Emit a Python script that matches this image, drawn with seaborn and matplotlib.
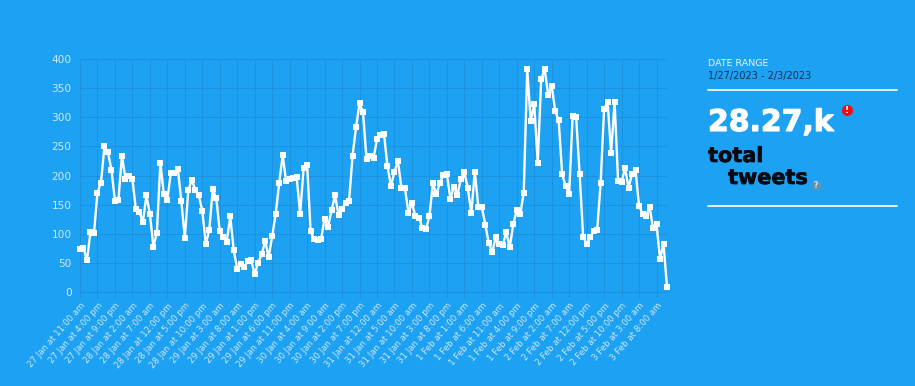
# -*- coding: utf-8 -*-
"""Hourly tweet volume, 27 Jan - 3 Feb 2023."""
import matplotlib
matplotlib.use("Agg")
import matplotlib.patheffects as pe
import matplotlib.pyplot as plt
import pandas as pd
import seaborn as sns

BG = "#1DA1F2"
GRID = "#1A90DA"
LABEL = "#CFE9FB"

TWEETS = [
    75, 76, 55, 104, 101, 171, 188, 250, 240, 210, 157, 158, 234, 195, 200, 194,
    142, 138, 120, 166, 135, 78, 102, 222, 168, 159, 205, 205, 212, 156, 93, 176,
    192, 176, 166, 140, 83, 107, 177, 161, 105, 95, 87, 130, 72, 40, 49, 43,
    54, 55, 31, 51, 65, 88, 60, 96, 134, 187, 235, 190, 194, 196, 198, 134,
    213, 219, 105, 91, 89, 91, 126, 112, 141, 166, 133, 143, 153, 156, 234, 283,
    324, 309, 228, 233, 230, 262, 270, 272, 216, 182, 207, 225, 178, 179, 136, 153,
    130, 128, 111, 108, 130, 187, 168, 188, 201, 203, 160, 181, 167, 194, 206, 178,
    136, 207, 146, 146, 116, 84, 69, 95, 82, 81, 103, 77, 117, 141, 134, 171,
    382, 293, 323, 222, 366, 382, 338, 354, 311, 295, 202, 182, 169, 303, 300, 202,
    95, 83, 94, 105, 106, 187, 314, 327, 238, 327, 191, 189, 213, 179, 203, 209,
    148, 135, 130, 147, 110, 117, 57, 83, 9,
]
HOURS = list(range(len(TWEETS)))
TICK_LABELS = [
    "27 Jan at 11:00 am", "27 Jan at 4:00 pm", "27 Jan at 9:00 pm",
    "28 Jan at 2:00 am", "28 Jan at 7:00 am", "28 Jan at 12:00 pm",
    "28 Jan at 5:00 pm", "28 Jan at 10:00 pm", "29 Jan at 3:00 am",
    "29 Jan at 8:00 am", "29 Jan at 1:00 pm", "29 Jan at 6:00 pm",
    "29 Jan at 11:00 pm", "30 Jan at 4:00 am", "30 Jan at 9:00 am",
    "30 Jan at 2:00 pm", "30 Jan at 7:00 pm", "31 Jan at 12:00 am",
    "31 Jan at 5:00 am", "31 Jan at 10:00 am", "31 Jan at 3:00 pm",
    "31 Jan at 8:00 pm", "1 Feb at 1:00 am", "1 Feb at 6:00 am",
    "1 Feb at 11:00 am", "1 Feb at 4:00 pm", "1 Feb at 9:00 pm",
    "2 Feb at 2:00 am", "2 Feb at 7:00 am", "2 Feb at 12:00 pm",
    "2 Feb at 5:00 pm", "2 Feb at 10:00 pm", "3 Feb at 3:00 am",
    "3 Feb at 8:00 am",
]
Y_TICKS = [0, 50, 100, 150, 200, 250, 300, 350, 400]


def build_figure():
    sns.set_theme(style="ticks")
    plt.rcParams["font.family"] = "DejaVu Sans"
    fig = plt.figure(figsize=(9.15, 3.86), dpi=100, facecolor=BG)

    ax = fig.add_axes([80 / 915, 1 - 292.3 / 386, 587 / 915, 233.3 / 386], facecolor=BG)
    df = pd.DataFrame({"hour": HOURS, "tweets": TWEETS})
    sns.lineplot(data=df, x="hour", y="tweets", ax=ax, color="white", linewidth=1.7,
                 marker="s", markersize=3.8, markeredgewidth=0, clip_on=False, zorder=5,
                 solid_joinstyle="miter")
    ax.set_xlim(0, 168)
    ax.set_ylim(0, 400)
    ax.set_xlabel("")
    ax.set_ylabel("")
    ax.set_xticks(HOURS[::5])
    ax.set_xticklabels(TICK_LABELS, rotation=49, ha="right", va="top",
                       rotation_mode="anchor", fontsize=6.2, color=LABEL)
    ax.set_yticks(Y_TICKS)
    ax.tick_params(axis="x", length=4, width=0.6, color=GRID, pad=2.5)
    ax.tick_params(axis="y", length=0, pad=6, labelsize=7.6, labelcolor=LABEL)
    ax.grid(True, color=GRID, linewidth=0.6)
    ax.set_axisbelow(True)
    for side in ("top", "right", "left"):
        ax.spines[side].set_visible(False)
    ax.spines["bottom"].set_color(GRID)
    ax.spines["bottom"].set_linewidth(0.6)

    # side panel is laid out in picture pixels
    side = fig.add_axes([0, 0, 1, 1], facecolor="none")
    side.set_xlim(0, 915)
    side.set_ylim(386, 0)
    side.axis("off")
    side.text(708, 64, "DATE RANGE", color="#E6F4FE", fontsize=6.8, va="center")
    side.text(708, 76.5, "1/27/2023 - 2/3/2023", color="#12304A", fontsize=7, va="center")
    side.plot([708, 897], [90, 90], color="#E3F2FD", linewidth=1.4)
    side.plot([708, 897], [205.5, 205.5], color="#E3F2FD", linewidth=1.4)
    big = side.text(708, 122.5, "28.27,k", color="white", fontsize=21.5, fontweight="bold", va="center")
    big.set_path_effects([pe.withStroke(linewidth=0.8, foreground="white")])
    for x, y, word in [(708, 156, "total"), (728, 178, "tweets")]:
        txt = side.text(x, y, word, color="#050A12", fontsize=15, fontweight="bold", va="center")
        txt.set_path_effects([pe.withStroke(linewidth=0.5, foreground="#050A12")])
    side.scatter([847], [110], s=63, color="#F20D0D", linewidths=0)
    side.text(847, 110.5, "!", color="white", fontsize=6.5, fontweight="bold", ha="center", va="center")
    side.scatter([816], [185], s=52, color="#5C93B8", linewidths=0)
    side.text(816, 185, "?", color="#D5E6F2", fontsize=5.5, fontweight="bold", ha="center", va="center")
    return fig


def main():
    fig = build_figure()
    fig.savefig("out.png", dpi=100, facecolor=BG)


if __name__ == "__main__":
    main()
